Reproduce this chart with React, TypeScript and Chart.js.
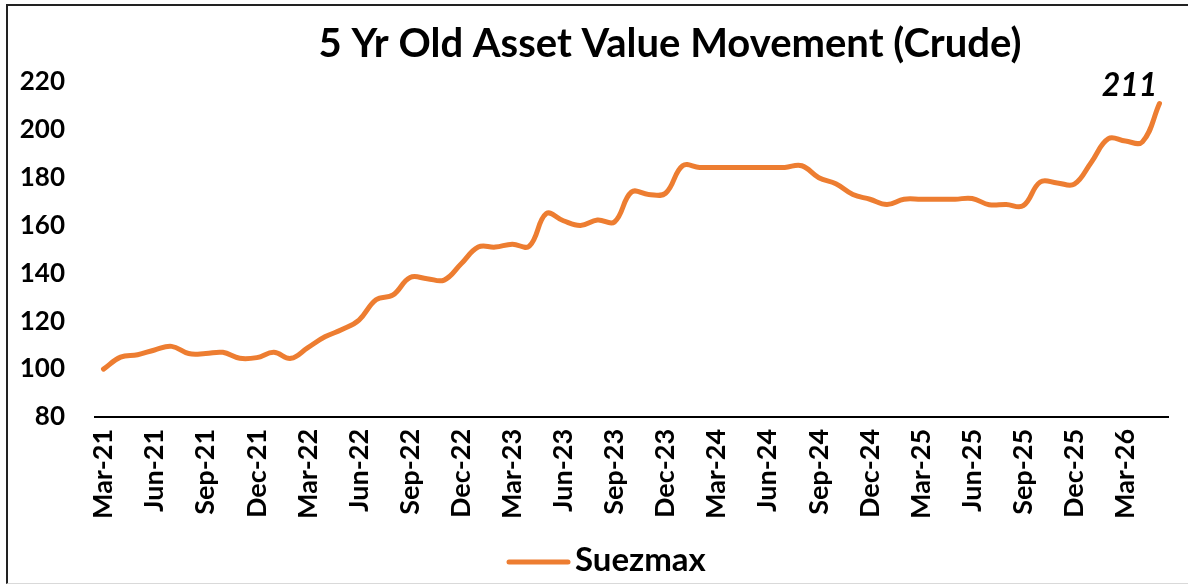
import React, { useEffect, useRef } from "react";
import { Chart, registerables } from "chart.js";

Chart.register(...registerables);

const TITLE = "5 Yr Old Asset Value Movement (Crude)";
const SERIES_NAME = "Suezmax";

const months: string[] = [
  "Mar-21", "Apr-21", "May-21", "Jun-21", "Jul-21", "Aug-21", "Sep-21", "Oct-21", "Nov-21", "Dec-21",
  "Jan-22", "Feb-22", "Mar-22", "Apr-22", "May-22", "Jun-22", "Jul-22", "Aug-22", "Sep-22", "Oct-22",
  "Nov-22", "Dec-22", "Jan-23", "Feb-23", "Mar-23", "Apr-23", "May-23", "Jun-23", "Jul-23", "Aug-23",
  "Sep-23", "Oct-23", "Nov-23", "Dec-23", "Jan-24", "Feb-24", "Mar-24", "Apr-24", "May-24", "Jun-24",
  "Jul-24", "Aug-24", "Sep-24", "Oct-24", "Nov-24", "Dec-24", "Jan-25", "Feb-25", "Mar-25", "Apr-25",
  "May-25", "Jun-25", "Jul-25", "Aug-25", "Sep-25", "Oct-25", "Nov-25", "Dec-25", "Jan-26", "Feb-26",
  "Mar-26", "Apr-26", "May-26",
];

const suezmax: number[] = [
  100, 105, 106, 108, 109.5, 106.5, 106.5, 107, 104.5, 104.8,
  107, 104.5, 109, 113.5, 116.5, 120.5, 129, 131, 138.3, 137.8,
  137.2, 144, 151, 151, 152.2, 151.4, 165, 162, 160, 162.3,
  161.5, 174, 173, 173.5, 185, 184.3, 184.3, 184.3, 184.3, 184.3,
  184.3, 185, 180, 177.5, 173, 171, 168.8, 171, 171, 171,
  171, 171.3, 168.7, 168.8, 168.3, 178.2, 177.8, 177.3, 186.5, 196.3,
  195.3, 195, 211,
];

const Y_MIN = 80;
const Y_MAX = 220;
const Y_STEP = 20;
const LABEL_EVERY = 3;

const ORANGE = "#ED7D31";
const FONT = "Lato, 'Open Sans', sans-serif";

// Title, legend and end-value label drawn on the chart canvas
const decorPlugin = {
  id: "decor",
  afterDraw(chart: any) {
    const ctx = chart.ctx;
    ctx.save();
    // title
    ctx.font = `bold 40px ${FONT}`;
    ctx.fillStyle = "#000";
    ctx.textAlign = "center";
    ctx.textBaseline = "alphabetic";
    ctx.fillText(TITLE, 670, 57);

    // legend
    ctx.strokeStyle = ORANGE;
    ctx.lineWidth = 5;
    ctx.lineCap = "round";
    ctx.beginPath();
    ctx.moveTo(509, 562);
    ctx.lineTo(568, 562);
    ctx.stroke();
    ctx.font = `bold 33px ${FONT}`;
    ctx.textAlign = "left";
    ctx.fillText(SERIES_NAME, 575, 571);

    // last value label
    const meta = chart.getDatasetMeta(0);
    const idx = suezmax.length - 1;
    const pt = meta.data[idx];
    if (pt) {
      ctx.font = `italic bold 32px ${FONT}`;
      ctx.textAlign = "center";
      ctx.fillText(String(Math.round(suezmax[idx])), pt.x - 30, pt.y - 8);
    }
    ctx.restore();
  },
};

export default function App() {
  const canvasRef = useRef<HTMLCanvasElement | null>(null);

  useEffect(() => {
    if (!canvasRef.current) return;
    const chart = new Chart(canvasRef.current, {
      type: "line",
      data: {
        labels: months,
        datasets: [
          {
            label: SERIES_NAME,
            data: suezmax,
            borderColor: ORANGE,
            backgroundColor: ORANGE,
            borderWidth: 5,
            pointRadius: 0,
            tension: 0.4,
            borderCapStyle: "round",
            borderJoinStyle: "round",
          },
        ],
      },
      options: {
        animation: false,
        responsive: false,
        maintainAspectRatio: false,
        layout: { padding: { left: 20, right: 20, top: 82, bottom: 53 } },
        plugins: {
          title: { display: false },
          legend: { display: false },
          tooltip: { enabled: false },
        },
        scales: {
          x: {
            offset: true,
            grid: { display: false, drawTicks: false },
            border: { display: true, color: "#000", width: 2 },
            afterFit: (scale: any) => {
              scale.paddingLeft = 0;
              scale.paddingRight = 0;
            },
            ticks: {
              autoSkip: false,
              maxRotation: 90,
              minRotation: 90,
              padding: 12,
              color: "#000",
              font: { family: FONT, size: 27, weight: "bold" },
              callback: (_v: any, i: number) => (i % LABEL_EVERY === 0 ? months[i] : null),
            },
          },
          y: {
            min: Y_MIN,
            max: Y_MAX,
            grid: { display: false, drawTicks: false },
            border: { display: false },
            afterFit: (scale: any) => {
              scale.width = 75;
            },
            ticks: {
              stepSize: Y_STEP,
              padding: 30,
              color: "#000",
              font: { family: FONT, size: 26, weight: "bold" },
            },
          },
        },
      },
      plugins: [decorPlugin],
    });
    return () => chart.destroy();
  }, []);

  return (
    <div style={{ position: "absolute", left: 0, top: 0, width: 1188, height: 584, overflow: "hidden", background: "#fff" }}>
      <div
        style={{
          position: "absolute",
          left: 6,
          top: 4,
          width: 1200,
          height: 577,
          borderLeft: "2px solid #222",
          borderTop: "2px solid #222",
          borderBottom: "1px solid #d9d9d9",
        }}
      />
      <canvas ref={canvasRef} width={1188} height={584} style={{ position: "absolute", left: 0, top: 0 }} />
    </div>
  );
}
